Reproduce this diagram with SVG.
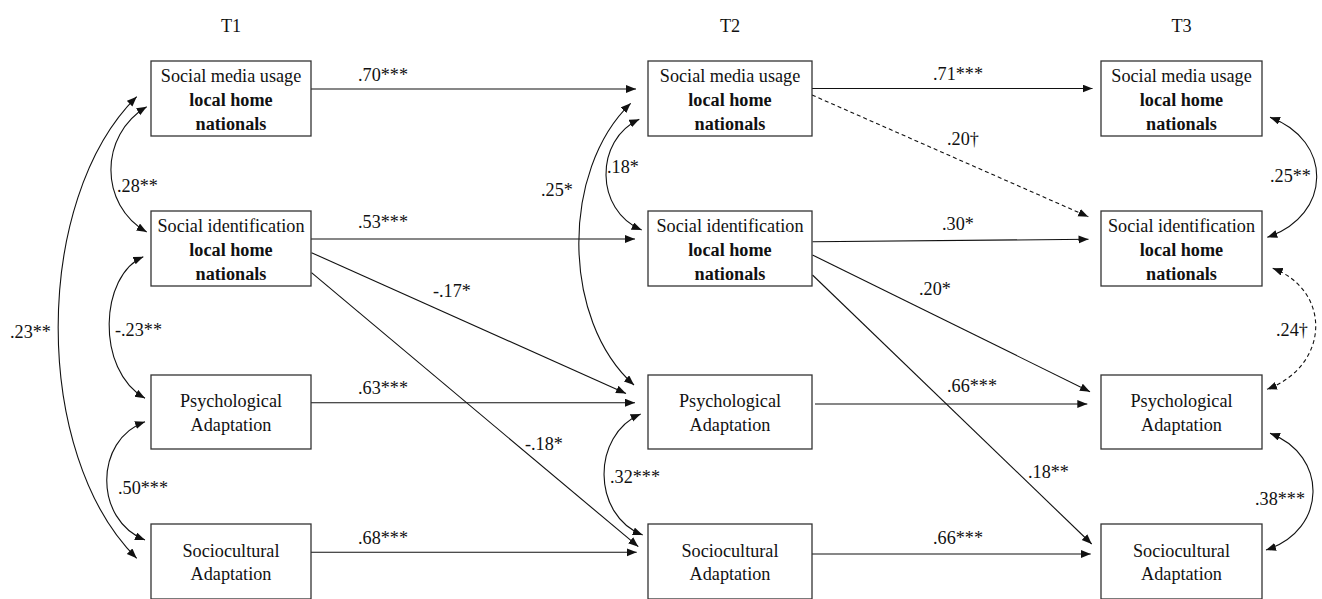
<svg xmlns="http://www.w3.org/2000/svg" width="1322" height="599" viewBox="0 0 1322 599">
  <style>
    text { font-family: "Liberation Serif", "Times New Roman", serif; font-size: 18.2px; fill: #111; }
    .hdr { text-anchor: middle; }
    .nt { text-anchor: middle; }
    .b { font-weight: bold; }
    .box { fill: #fff; stroke: #333; stroke-width: 1.3; }
    .ln { fill: none; stroke: #111; stroke-width: 1.1; }
    .dash { stroke-dasharray: 4 3; }
    .one { marker-end: url(#ah); }
    .two { marker-start: url(#ah); marker-end: url(#ah); }
  </style>
  <defs>
    <marker id="ah" markerUnits="userSpaceOnUse" markerWidth="11" markerHeight="9" refX="10" refY="4" orient="auto-start-reverse" viewBox="0 0 11 9">
      <path d="M0,0 L10,4 L0,8 z" fill="#111"/>
    </marker>
  </defs>

  <rect width="1322" height="599" fill="#fff"/>

  <!-- wave headers -->
  <text class="hdr" x="231" y="32">T1</text>
  <text class="hdr" x="730" y="32">T2</text>
  <text class="hdr" x="1181.5" y="32">T3</text>

  <!-- paths and covariances -->
  <g id="connectors">
    <!-- T1 to T2 -->
    <line class="ln one" x1="311" y1="89" x2="636" y2="89"/>
    <line class="ln one" x1="311" y1="239" x2="635" y2="239"/>
    <line class="ln one" x1="311.5" y1="252.7" x2="626" y2="393.5"/>
    <line class="ln one" x1="311.5" y1="272.7" x2="638.3" y2="546.7"/>
    <line class="ln one" x1="311" y1="402.7" x2="635" y2="402.7"/>
    <line class="ln one" x1="311" y1="552.3" x2="636.7" y2="552.3"/>
    <!-- T2 to T3 -->
    <line class="ln one" x1="812" y1="88.5" x2="1092.5" y2="88.5"/>
    <line class="ln one dash" x1="812" y1="95" x2="1088.3" y2="216.7"/>
    <line class="ln one" x1="812.5" y1="241.7" x2="1088.5" y2="239.3"/>
    <line class="ln one" x1="812.5" y1="255" x2="1090" y2="391.7"/>
    <line class="ln one" x1="812.5" y1="275" x2="1091.7" y2="544"/>
    <line class="ln one" x1="815" y1="404" x2="1087.3" y2="404"/>
    <line class="ln one" x1="812" y1="554" x2="1090.7" y2="554"/>

    <!-- T1 covariances -->
    <path class="ln two" d="M146.7,106.7 C99,135 99,205 146.7,232"/>
    <path class="ln two" d="M143.3,256.7 C100,275 95,370 145,398.3"/>
    <path class="ln two" d="M145,421.7 C94,440 94,520 145,540"/>
    <path class="ln two" d="M136.7,96.7 C32,200 32,455 136.7,558.3"/>
    <!-- T2 covariances -->
    <path class="ln two" d="M639.3,119.3 C594.5,140 594.5,210 641.7,230"/>
    <path class="ln two" d="M630.7,103.3 C561,170 561,320 634,385"/>
    <path class="ln two" d="M640.7,414 C591.5,435 591.5,515 642.7,535"/>
    <!-- T3 covariances -->
    <path class="ln two" d="M1270,117.3 C1332.7,140 1332.7,215 1267.3,237.3"/>
    <path class="ln two dash" d="M1272.7,268.3 C1331,290 1331,365 1267,389.3"/>
    <path class="ln two" d="M1270,433.3 C1328,455 1328,530 1266,550"/>

    <!-- coefficients -->
    <text x="358" y="81">.70***</text>
    <text x="933" y="80">.71***</text>
    <text x="947" y="145">.20†</text>
    <text x="358" y="228">.53***</text>
    <text x="942" y="230">.30*</text>
    <text x="433" y="297">-.17*</text>
    <text x="525" y="450">-.18*</text>
    <text x="919" y="295">.20*</text>
    <text x="1028" y="478">.18**</text>
    <text x="358" y="394">.63***</text>
    <text x="947" y="392">.66***</text>
    <text x="358" y="544">.68***</text>
    <text x="933" y="544">.66***</text>

    <text x="117" y="192">.28**</text>
    <text x="115" y="336">-.23**</text>
    <text x="118" y="494">.50***</text>
    <text x="10" y="338">.23**</text>
    <text x="607" y="173">.18*</text>
    <text x="541" y="196">.25*</text>
    <text x="610" y="483">.32***</text>
    <text x="1270" y="182">.25**</text>
    <text x="1276" y="336">.24†</text>
    <text x="1255" y="505">.38***</text>
  </g>

  <!-- T1 -->
  <g id="smu1">
    <rect class="box" x="151" y="61" width="160" height="75"/>
    <text class="nt" x="231" y="82">Social media usage</text>
    <text class="nt b" x="231" y="106">local home</text>
    <text class="nt b" x="231" y="130">nationals</text>
  </g>
  <g id="si1">
    <rect class="box" x="151" y="211" width="160" height="75"/>
    <text class="nt" x="231" y="232">Social identification</text>
    <text class="nt b" x="231" y="256">local home</text>
    <text class="nt b" x="231" y="280">nationals</text>
  </g>
  <g id="pa1">
    <rect class="box" x="151" y="375" width="160" height="74"/>
    <text class="nt" x="231" y="407">Psychological</text>
    <text class="nt" x="231" y="431">Adaptation</text>
  </g>
  <g id="sa1">
    <rect class="box" x="151" y="524" width="160" height="75"/>
    <text class="nt" x="231" y="557">Sociocultural</text>
    <text class="nt" x="231" y="580">Adaptation</text>
  </g>

  <!-- T2 -->
  <g id="smu2">
    <rect class="box" x="648" y="61" width="164" height="75"/>
    <text class="nt" x="730" y="82">Social media usage</text>
    <text class="nt b" x="730" y="106">local home</text>
    <text class="nt b" x="730" y="130">nationals</text>
  </g>
  <g id="si2">
    <rect class="box" x="648" y="211" width="164" height="75"/>
    <text class="nt" x="730" y="232">Social identification</text>
    <text class="nt b" x="730" y="256">local home</text>
    <text class="nt b" x="730" y="280">nationals</text>
  </g>
  <g id="pa2">
    <rect class="box" x="648" y="375" width="164" height="74"/>
    <text class="nt" x="730" y="407">Psychological</text>
    <text class="nt" x="730" y="431">Adaptation</text>
  </g>
  <g id="sa2">
    <rect class="box" x="648" y="524" width="164" height="75"/>
    <text class="nt" x="730" y="557">Sociocultural</text>
    <text class="nt" x="730" y="580">Adaptation</text>
  </g>

  <!-- T3 -->
  <g id="smu3">
    <rect class="box" x="1101" y="61" width="161" height="75"/>
    <text class="nt" x="1181.5" y="82">Social media usage</text>
    <text class="nt b" x="1181.5" y="106">local home</text>
    <text class="nt b" x="1181.5" y="130">nationals</text>
  </g>
  <g id="si3">
    <rect class="box" x="1101" y="211" width="161" height="75"/>
    <text class="nt" x="1181.5" y="232">Social identification</text>
    <text class="nt b" x="1181.5" y="256">local home</text>
    <text class="nt b" x="1181.5" y="280">nationals</text>
  </g>
  <g id="pa3">
    <rect class="box" x="1101" y="375" width="161" height="74"/>
    <text class="nt" x="1181.5" y="407">Psychological</text>
    <text class="nt" x="1181.5" y="431">Adaptation</text>
  </g>
  <g id="sa3">
    <rect class="box" x="1101" y="524" width="161" height="75"/>
    <text class="nt" x="1181.5" y="557">Sociocultural</text>
    <text class="nt" x="1181.5" y="580">Adaptation</text>
  </g>
</svg>
